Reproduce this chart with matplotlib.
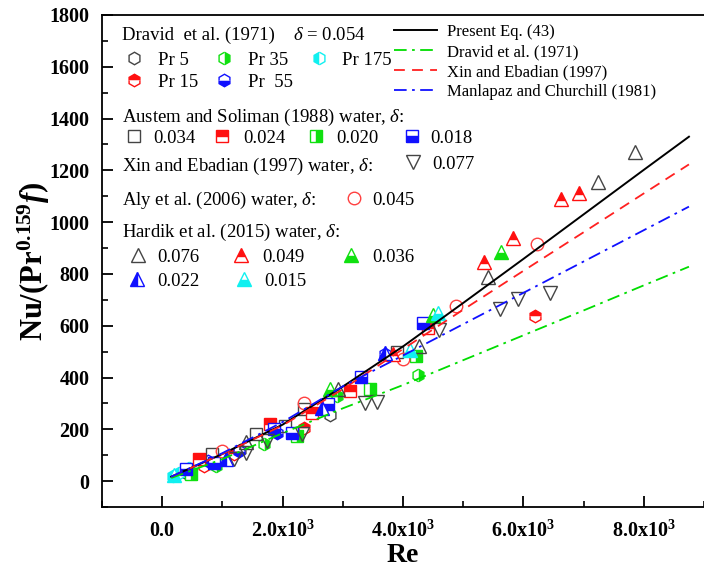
import numpy as np
import matplotlib
matplotlib.use("Agg")
import matplotlib.pyplot as plt
from matplotlib.ticker import MultipleLocator, FuncFormatter

plt.rcParams['font.family'] = ['Liberation Serif', 'DejaVu Serif']
plt.rcParams['mathtext.fontset'] = 'custom'
plt.rcParams['mathtext.rm'] = 'Liberation Serif'
plt.rcParams['mathtext.it'] = 'Liberation Serif:italic'
plt.rcParams['mathtext.bf'] = 'Liberation Serif:bold'
plt.rcParams['mathtext.bfit'] = 'Liberation Serif:italic:bold'

# correlations
line_re = [150, 1000, 2000, 3000, 4000, 5000, 6000, 7000, 8000, 8750]
present_nu = [17, 105, 218, 365, 520, 688, 858, 1030, 1202, 1330]
dravid_nu = [12, 85, 185, 281, 371, 467, 563, 659, 756, 828]
xin_nu = [17, 105, 215, 355, 510, 662, 812, 961, 1111, 1223]
manlapaz_nu = [17, 108, 228, 366, 485, 606, 727, 848, 969, 1060]

# Dravid et al. (1971) hexagons
pr5_re = [400, 1300, 2789]
pr5_nu = [30, 120, 254]
pr15_re = [700, 1193, 2348, 6198]
pr15_nu = [60, 103, 206, 637]
pr35_re = [891, 1688, 2900, 4257]
pr35_nu = [58, 142, 330, 408]
pr55_re = [753, 1276, 1908, 3700]
pr55_nu = [77, 116, 187, 490]
pr175_re = [175, 285, 450]
pr175_nu = [19, 32, 52]

# Austem and Soliman (1988) squares
a034_re = [835, 1551, 2046, 2348, 3900]
a034_nu = [103, 180, 212, 277, 500]
a024_re = [616, 1798, 2485, 3119, 4412]
a024_nu = [84, 219, 264, 347, 592]
a020_re = [479, 2238, 3449, 4218]
a020_nu = [26, 174, 357, 483]
a018_re = [396, 863, 1853, 2155, 2761, 3310, 4328]
a018_nu = [45, 71, 200, 187, 296, 403, 609]

# Xin and Ebadian (1997)
xe_re = [1193, 1386, 1743, 2320, 3366, 3574, 4604, 5604, 5912, 6436]
xe_nu = [84, 110, 154, 180, 303, 305, 583, 666, 704, 727]

# Aly et al. (2006)
aly_re = [1000, 2348, 3998, 4878, 6226]
aly_nu = [116, 303, 472, 676, 914]

# Hardik et al. (2015)
h076_re = [1400, 2926, 4274, 5412, 7233, 7860]
h076_nu = [150, 357, 521, 788, 1154, 1270]
h049_re = [3833, 5347, 5830, 6627, 6931]
h049_nu = [489, 846, 940, 1090, 1113]
h036_re = [2789, 4500, 5632]
h036_nu = [354, 640, 884]
h022_re = [1056, 2650, 3696]
h022_nu = [84, 283, 496]
h015_re = [200, 4109, 4576]
h015_nu = [25, 508, 650]

W, H = 704, 571
fig = plt.figure(figsize=(W / 100, H / 100), dpi=100)
ax = fig.add_axes([102 / W, 64 / H, (W - 102) / W, 492 / H])

GRAY = '#444444'
RED = '#ff1010'
GREEN = '#10e010'
BLUE = '#1010ff'
CYAN = '#10f0f0'


def pts(x, y, marker, color, fill='none', ms=9):
    if fill == 'none':
        kw = dict(markerfacecolor='none')
    else:
        kw = dict(fillstyle=fill, markerfacecolor=color, markerfacecoloralt='white')
    h, = ax.plot(x, y, ls='none', marker=marker, ms=ms, markeredgecolor=color,
                 markeredgewidth=1.0, **kw)
    return h


h_pr5 = pts(pr5_re, pr5_nu, 'h', GRAY)
h_pr15 = pts(pr15_re, pr15_nu, 'h', RED, 'top')
h_pr35 = pts(pr35_re, pr35_nu, 'h', GREEN, 'right')
h_pr55 = pts(pr55_re, pr55_nu, 'h', BLUE, 'bottom')
h_pr175 = pts(pr175_re, pr175_nu, 'h', CYAN, 'left')

h_a034 = pts(a034_re, a034_nu, 's', GRAY, ms=8)
h_a024 = pts(a024_re, a024_nu, 's', RED, 'top', ms=8)
h_a020 = pts(a020_re, a020_nu, 's', GREEN, 'right', ms=8)
h_a018 = pts(a018_re, a018_nu, 's', BLUE, 'bottom', ms=8)

h_xe = pts(xe_re, xe_nu, 'v', GRAY, ms=10)
h_aly = pts(aly_re, aly_nu, 'o', '#ff4040', ms=9)

h_h076 = pts(h076_re, h076_nu, '^', GRAY, ms=10)
h_h049 = pts(h049_re, h049_nu, '^', RED, 'top', ms=10)
h_h036 = pts(h036_re, h036_nu, '^', GREEN, 'bottom', ms=10)
h_h022 = pts(h022_re, h022_nu, '^', BLUE, 'left', ms=10)
h_h015 = pts(h015_re, h015_nu, '^', CYAN, 'bottom', ms=10)

l1, = ax.plot(line_re, present_nu, color='black', lw=1.4)
l2, = ax.plot(line_re, dravid_nu, color='#00dd00', lw=1.3, dashes=(7, 3, 1.5, 3))
l3, = ax.plot(line_re, xin_nu, color='#ff2020', lw=1.3, dashes=(6, 4))
l4, = ax.plot(line_re, manlapaz_nu, color='#1010ff', lw=1.3, dashes=(7, 3, 1.5, 3))

ax.set_xlim(-1000, 9000)
ax.set_ylim(-100, 1800)
ax.spines['right'].set_visible(False)
for s in ax.spines.values():
    s.set_linewidth(1.3)
ax.xaxis.set_major_locator(MultipleLocator(2000))
ax.xaxis.set_minor_locator(MultipleLocator(1000))
ax.yaxis.set_major_locator(MultipleLocator(200))
ax.yaxis.set_minor_locator(MultipleLocator(100))
ax.set_yticks(np.arange(0, 1801, 200))


def xfmt(v, pos):
    if abs(v) < 1e-9:
        return '0.0'
    return r'%.1fx10$^{\mathbf{3}}$' % (v / 1000)


ax.xaxis.set_major_formatter(FuncFormatter(xfmt))
ax.tick_params(which='major', direction='in', length=8, width=1.3, labelsize=14.5, pad=10)
ax.tick_params(which='minor', direction='in', length=4, width=1.2)
ax.tick_params(axis='y', pad=9)
for t in ax.get_xticklabels() + ax.get_yticklabels():
    t.set_fontweight('bold')
ax.set_xlabel('Re', fontsize=20, fontweight='bold', labelpad=1)
ax.set_ylabel(r'Nu/(Pr$^{\mathbf{0.159}}$$\mathbfit{f}$)', fontsize=22, fontweight='bold', labelpad=-2)

# right legend (correlations)
fig.legend([l1, l2, l3, l4],
           ['Present Eq. (43)', 'Dravid et al. (1971)', 'Xin and Ebadian (1997)',
            'Manlapaz and Churchill (1981)'],
           loc='upper left', bbox_to_anchor=(394 / W, 1 - 24 / H), frameon=False,
           borderpad=0, borderaxespad=0, handlelength=2.6, handletextpad=0.6,
           labelspacing=0.24, fontsize=12)

FS = 13.5
EM = FS * 100 / 72


def key(h, label, mx, lx, y):
    hl = 14 / EM
    pad = (lx - mx - 7) / EM
    fig.legend([h], [label], loc='center left', bbox_to_anchor=((mx - 7) / W, 1 - y / H),
               frameon=False, borderpad=0, borderaxespad=0, handlelength=hl,
               handletextpad=pad, fontsize=FS, numpoints=1)


def head(s, x, y):
    fig.text(x / W, 1 - y / H, s, fontsize=FS, ha='left', va='center')


head('Dravid  et al. (1971)', 122, 35)
head(r'$\delta$ = 0.054', 293, 35)
key(h_pr5, 'Pr 5', 134, 158, 60)
key(h_pr35, 'Pr 35', 224, 248, 60)
key(h_pr175, 'Pr 175', 319, 342, 60)
key(h_pr15, 'Pr 15', 134, 158, 82)
key(h_pr55, 'Pr  55', 224, 248, 82)

head(r'Austem and Soliman (1988) water, $\delta$:', 122, 117)
key(h_a034, '0.034', 134, 153, 138)
key(h_a024, '0.024', 222, 243, 138)
key(h_a020, '0.020', 316, 336, 138)
key(h_a018, '0.018', 412, 430, 138)

head(r'Xin and Ebadian (1997) water, $\delta$:', 122, 166)
key(h_xe, '0.077', 413, 432, 164)

head(r'Aly et al. (2006) water, $\delta$:', 122, 200)
key(h_aly, '0.045', 354, 372, 200)

head(r'Hardik et al. (2015) water, $\delta$:', 122, 232)
key(h_h076, '0.076', 138, 157, 257)
key(h_h049, '0.049', 241, 262, 257)
key(h_h036, '0.036', 351, 372, 257)
key(h_h022, '0.022', 137, 157, 281)
key(h_h015, '0.015', 244, 264, 281)

fig.savefig('out.png', dpi=100)
